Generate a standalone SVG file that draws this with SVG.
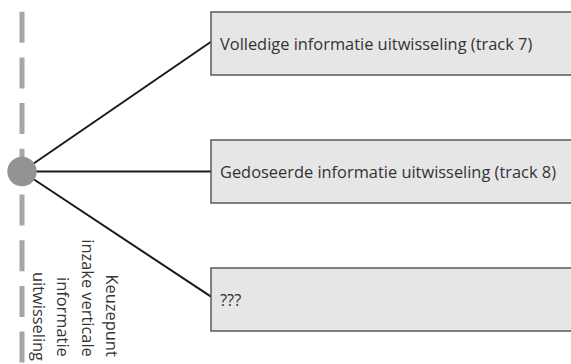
<svg xmlns="http://www.w3.org/2000/svg" width="571" height="364" viewBox="0 0 571 364">
  <style>
    .box { fill: #e6e6e7; stroke: #5a5a5a; stroke-width: 1.5; }
    .lbl { font-family: "Open Sans", "Noto Sans", sans-serif; font-size: 16.4px; fill: #333333; }
    .conn { stroke: #1a1a1a; stroke-width: 2; fill: none; }
    .axis { stroke: #a6a6a6; stroke-width: 5; stroke-dasharray: 31 14.7; fill: none; }
  </style>
  <rect width="571" height="364" fill="#ffffff"/>
  <g id="axis">
    <line class="axis" x1="22" y1="11.7" x2="22" y2="370"/>
  </g>
  <g id="connectors">
    <line class="conn" x1="22" y1="171.5" x2="211" y2="41.7"/>
    <line class="conn" x1="22" y1="171.5" x2="211" y2="171.5"/>
    <line class="conn" x1="22" y1="171.5" x2="211" y2="296.7"/>
  </g>
  <g id="keuzepunt">
    <circle cx="22" cy="171.5" r="14.7" fill="#939393"/>
    <text class="lbl" transform="rotate(90)" text-anchor="end">
      <tspan x="361" y="-106">Keuzepunt</tspan>
      <tspan x="361" y="-81.6">inzake verticale</tspan>
      <tspan x="361" y="-57.2">informatie</tspan>
      <tspan x="361" y="-32.8">uitwisseling</tspan>
    </text>
  </g>
  <g id="track7">
    <rect class="box" x="211" y="12" width="380" height="63"/>
    <text class="lbl" x="220" y="49.5">Volledige informatie uitwisseling (track 7)</text>
  </g>
  <g id="track8">
    <rect class="box" x="211" y="140" width="380" height="63"/>
    <text class="lbl" x="220" y="177.5">Gedoseerde informatie uitwisseling (track 8)</text>
  </g>
  <g id="unknown">
    <rect class="box" x="211" y="268" width="380" height="63"/>
    <text class="lbl" x="220" y="305.5">???</text>
  </g>
</svg>
